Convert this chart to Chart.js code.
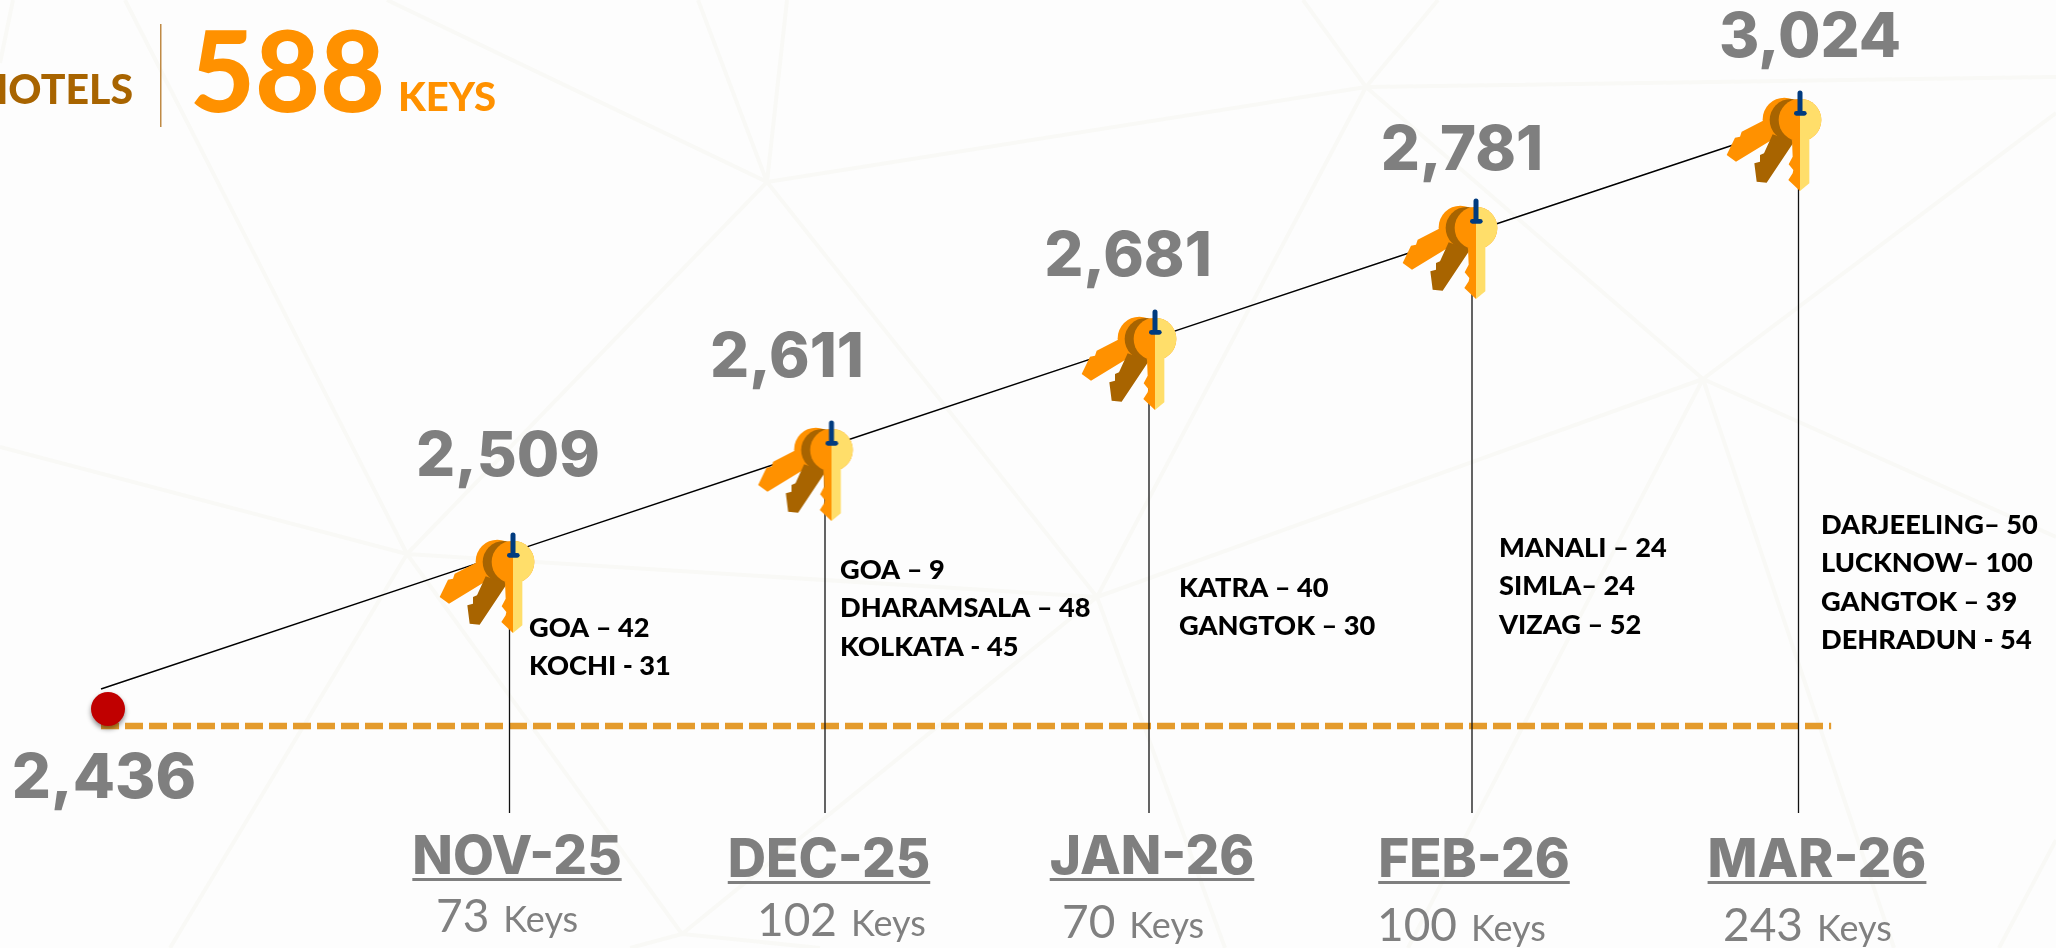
<!DOCTYPE html>
<html>
<head>
<meta charset="utf-8">
<title>Keys pipeline</title>
<script src="https://cdn.jsdelivr.net/npm/chart.js@4"></script>
<style>
    html, body { margin: 0; padding: 0; background: #fdfdfd; overflow: hidden; }
    #wrap { position: relative; width: 2056px; height: 948px; }
    #mesh, #chart { position: absolute; left: 0; top: 0; }
</style>
</head>
<body>
<div id="wrap">
    <svg id="mesh" width="2056" height="948" fill="none" stroke="#f9f9f6" stroke-width="4">
        <path d="M767 182L387 0M767 182L698 0M767 182L787 0M767 182L1366 87M767 182L407 554M767 182L1097 597
                 M125 0L407 554M0 447L407 554M170 948L407 554M682 934L407 554M1097 597L407 554
                 M682 934L1097 597M682 934L630 948M682 934L820 948
                 M1097 597L1366 87M1097 597L1703 379M1097 597L1225 948
                 M1366 87L1303 0M1366 87L1438 0M1366 87L2056 77M1366 87L1703 379
                 M1703 379L2056 113M1703 379L1408 948M1703 379L1894 948M1703 379L2056 537
                 M13 0L0 63M2056 840L1999 948"/>
    </svg>
    <canvas id="chart" width="2056" height="948"></canvas>
</div>
<script>
// data
const openingKeys = 2436;
const monthLabels = ["NOV-25", "DEC-25", "JAN-26", "FEB-26", "MAR-26"];
const closingKeys = [2509, 2611, 2681, 2781, 3024];
const addedKeys = [73, 102, 70, 100, 243];
const cityKeys = [
    ["GOA – 42", "KOCHI - 31"],
    ["GOA – 9", "DHARAMSALA – 48", "KOLKATA - 45"],
    ["KATRA – 40", "GANGTOK – 30"],
    ["MANALI – 24", "SIMLA– 24", "VIZAG – 52"],
    ["DARJEELING– 50", "LUCKNOW– 100", "GANGTOK – 39", "DEHRADUN - 54"]
];
const baselineEnd = 5.1;
const axisFloor = 2400;
const headline = { hotels: "HOTELS", keys: 588, unit: "KEYS" };

const allTotals = [openingKeys, ...closingKeys];
const periods = allTotals.map((_, i) => i);

// where the text sits, the picture has no regular grid for it
const valueCenterX = [104, 508, 787, 1128, 1462, 1810];
const valueBaseline = [798, 476, 377, 276, 170, 57];
const monthCenterX = [517, 829, 1152, 1474, 1817];
const monthBaseline = [874, 877, 874, 877, 877];
const addedX = [436, 757, 1062, 1377, 1723];
const addedBaseline = [932, 936, 938, 941, 941];
const cityX = [529, 840, 1179, 1499, 1821];
const cityFirstBaseline = [637, 579, 597, 557, 534];

// The picture is schematic: equal steps on screen for unequal values.
// So the axes are piecewise, value -> pixel at each stop.
class MilestoneScale extends Chart.LinearScale {
    getPixelForValue(value) {
        const vals = this.options.stopValues;
        const pix = this.options.stopPixels;
        let i = 0;
        while (i < vals.length - 2 && value > vals[i + 1]) i++;
        const t = (value - vals[i]) / (vals[i + 1] - vals[i]);
        return pix[i] + t * (pix[i + 1] - pix[i]);
    }
}
MilestoneScale.id = "milestone";
MilestoneScale.defaults = Chart.LinearScale.defaults;
Chart.register(MilestoneScale);

function milestoneAxis(axis, stopValues, stopPixels) {
    return { type: "milestone", axis: axis, display: false, stopValues: stopValues, stopPixels: stopPixels };
}

function keysMarker() {
    const c = document.createElement("canvas");
    c.width = 170;
    c.height = 170;
    const g = c.getContext("2d");
    g.translate(85, 85);
    g.scale(1 / 3, 1 / 3);
    g.translate(-340, -185);

    const poly = (color, pts) => {
        g.fillStyle = color;
        g.beginPath();
        pts.forEach((p, i) => i ? g.lineTo(p[0], p[1]) : g.moveTo(p[0], p[1]));
        g.closePath();
        g.fill();
    };
    const disc = (color, x, y, r) => {
        g.fillStyle = color;
        g.beginPath();
        g.arc(x, y, r, 0, Math.PI * 2);
        g.fill();
    };

    // back key
    disc("#ff9100", 293, 183, 65);
    poly("#ff9100", [[232, 186], [165, 220], [160, 235], [145, 238], [120, 290], [148, 310], [266, 238]]);
    // middle key
    disc("#a86400", 312, 185, 63);
    poly("#a86400", [[258, 228], [232, 285], [220, 290], [220, 310], [203, 315], [210, 370], [240, 373], [322, 250]]);
    // front key, split in two colours
    disc("#ff9100", 340, 185, 64);
    g.fillStyle = "#ffde6a";
    g.beginPath();
    g.arc(340, 185, 64, -Math.PI / 2, Math.PI / 2);
    g.fill();
    poly("#ff9100", [[340, 240], [316, 245], [318, 295], [306, 318], [320, 335], [318, 345], [305, 365], [340, 398]]);
    poly("#ffde6a", [[340, 240], [368, 225], [368, 375], [340, 398]]);
    // pin
    g.strokeStyle = "#003b7f";
    g.lineWidth = 15;
    g.lineCap = "round";
    g.beginPath();
    g.moveTo(340, 104);
    g.lineTo(340, 160);
    g.stroke();
    g.lineWidth = 14;
    g.beginPath();
    g.moveTo(329, 165);
    g.lineTo(353, 165);
    g.stroke();
    return c;
}

function dotMarker() {
    const c = document.createElement("canvas");
    c.width = 70;
    c.height = 90;
    const g = c.getContext("2d");
    g.shadowColor = "rgba(0,0,0,0.45)";
    g.shadowBlur = 5;
    g.shadowOffsetY = 3;
    g.fillStyle = "#c00000";
    g.beginPath();
    g.arc(35, 45 - 17, 17, 0, Math.PI * 2);
    g.fill();
    return c;
}

const textPlugin = {
    id: "textPlugin",
    afterDatasetsDraw(chart) {
        const g = chart.ctx;
        const put = (text, x, y, font, color, align) => {
            g.font = font;
            g.fillStyle = color;
            g.textAlign = align || "left";
            g.textBaseline = "alphabetic";
            g.fillText(text, x, y);
        };
        g.save();

        // headline
        put(headline.hotels, 133, 104, "900 41px Lato", "#a86400", "right");
        g.fillStyle = "#bf8a45";
        g.fillRect(160, 24, 1.5, 103);
        put(String(headline.keys), 190, 112, "900 112px Lato", "#ff9100");
        put(headline.unit, 398, 111, "900 40px Lato", "#ff9100");

        allTotals.forEach((v, i) => {
            put(v.toLocaleString("en-US"), valueCenterX[i], valueBaseline[i], "800 61.5px Inter", "#7f7f7f", "center");
        });

        monthLabels.forEach((m, i) => {
            put(m, monthCenterX[i], monthBaseline[i], "800 53px Inter", "#7f7f7f", "center");
            const w = g.measureText(m).width;
            g.fillStyle = "#7f7f7f";
            g.fillRect(monthCenterX[i] - w / 2, monthBaseline[i] + 4, w, 3);

            const num = String(addedKeys[i]);
            put(num, addedX[i], addedBaseline[i], "46px Lato", "#808080");
            const nw = g.measureText(num).width;
            put("Keys", addedX[i] + nw + 14, addedBaseline[i], "36px Lato", "#808080");

            cityKeys[i].forEach((line, j) => {
                put(line, cityX[i], cityFirstBaseline[i] + j * 38.3, "900 27.2px Lato", "#000000");
            });
        });
        g.restore();
    }
};

const xAxes = {
    x: milestoneAxis("x", periods, [101, 509.5, 825, 1149, 1472, 1798.5]),
    xKey: milestoneAxis("x", periods, [108, 513, 831.5, 1155, 1476, 1800])
};
const yAxes = {
    yTrend: milestoneAxis("y", allTotals, [689, 552.6, 447.5, 339.6, 232, 123.2]),
    yKey: milestoneAxis("y", [axisFloor, ...allTotals], [813, 726, 562, 450, 339, 228, 120])
};

const dropSets = monthLabels.map((m, i) => ({
    label: m,
    data: [{ x: i + 1, y: closingKeys[i] }, { x: i + 1, y: axisFloor }],
    xAxisID: "x",
    yAxisID: "yKey",
    borderColor: "#111111",
    borderWidth: 1.3,
    pointRadius: 0
}));

new Chart(document.getElementById("chart"), {
    type: "line",
    data: {
        datasets: [
            {
                label: "Keys",
                data: closingKeys.map((v, i) => ({ x: i + 1, y: v })),
                xAxisID: "xKey",
                yAxisID: "yKey",
                showLine: false,
                pointStyle: keysMarker(),
                pointRadius: 30
            },
            {
                label: "Opening",
                data: [{ x: 0, y: openingKeys }],
                xAxisID: "xKey",
                yAxisID: "yKey",
                showLine: false,
                pointStyle: dotMarker(),
                pointRadius: 30
            },
            ...dropSets,
            {
                label: "Total keys",
                data: allTotals.map((v, i) => ({ x: i, y: v })),
                xAxisID: "x",
                yAxisID: "yTrend",
                borderColor: "#000000",
                borderWidth: 1.5,
                pointRadius: 0,
                tension: 0
            },
            {
                label: "Opening level",
                data: [{ x: 0, y: openingKeys }, { x: baselineEnd, y: openingKeys }],
                xAxisID: "x",
                yAxisID: "yKey",
                borderColor: "#e49b2c",
                borderWidth: 6.5,
                borderDash: [18, 6],
                pointRadius: 0
            }
        ]
    },
    options: {
        responsive: false,
        animation: false,
        layout: { padding: 0 },
        plugins: { legend: { display: false }, tooltip: { enabled: false } },
        scales: Object.assign({}, xAxes, yAxes)
    },
    plugins: [textPlugin]
});
</script>
</body>
</html>
